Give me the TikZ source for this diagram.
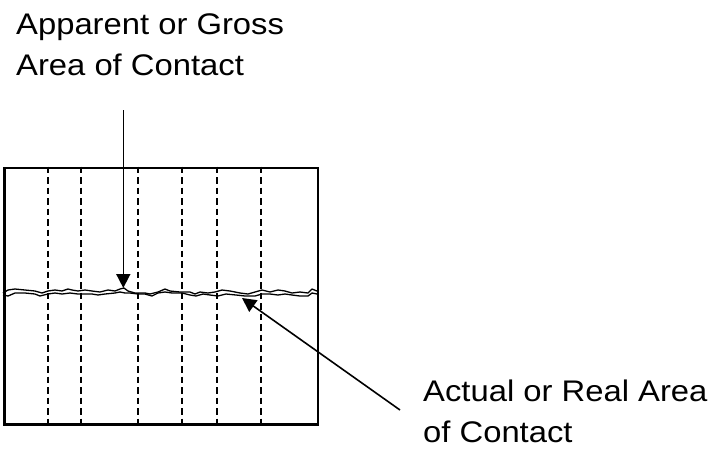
\documentclass[tikz,border=0pt]{standalone}
\usepackage{fontspec}
\setmainfont[FakeStretch=1.1]{Liberation Sans}
\usetikzlibrary{arrows.meta}
\begin{document}
\begin{tikzpicture}[x=1pt,y=-1pt,
  lbl/.style={anchor=base west,inner sep=0pt,font=\fontsize{29.8}{41}\selectfont},
  boxline/.style={line width=2.2pt},
  cut/.style={line width=1.8pt,dash pattern=on 6.5pt off 4pt},
  rough/.style={line width=1.3pt,line join=round},
  pointer/.style={line width=1.6pt,-{Triangle[length=14pt,width=14pt]}}]
\useasboundingbox (0,0) rectangle (712,448);
% block
\node[boxline,draw,rectangle,minimum width=313.4pt,minimum height=256.6pt,inner sep=0pt,anchor=north west] (blk) at (3.3,166.7) {};
% dashed lines
\foreach \xx/\nm in {48/d1,81/d2,138/d3,182/d4,217/d5,261/d6}{
  \coordinate (\nm t) at (\xx,166.7);
  \coordinate (\nm b) at (\xx,423.3);
  \draw[cut] (\nm t) -- (\nm b);
}
% rough interface
\draw[rough] plot coordinates {(3,293) (8,290) (15,289) (25,290) (35,291) (42,293) (48,291) (55,290) (62,291) (68,289) (72,290) (78,291) (85,290) (92,291) (100,292) (108,290) (115,291) (120,289) (124,288) (128,291) (135,293) (145,293) (150,294) (158,292) (165,289) (170,291) (180,292) (190,292) (195,294) (200,292) (208,293) (215,292) (222,290) (230,291) (240,293) (248,294) (255,292) (262,290) (270,292) (278,290) (285,291) (292,293) (300,292) (308,293) (312,289) (317,291)};
\draw[rough] plot coordinates {(3,295) (8,296) (15,293) (25,293) (35,294) (40,296) (48,294) (55,293) (62,294) (70,293) (78,294) (85,294) (92,294) (98,295) (105,294) (115,293) (120,292) (125,293) (130,293) (138,294) (145,294) (152,296) (158,293) (165,292) (172,293) (182,293) (190,295) (196,296) (203,294) (210,295) (218,296) (226,294) (236,295) (245,296) (255,296) (262,294) (270,294) (278,295) (285,294) (292,295) (300,296) (308,296) (312,293) (317,294)};
% labels
\node[lbl] (g1) at (16,34.3) {Apparent or Gross};
\node[lbl] (g2) at (16,75.3) {Area of Contact};
\node[lbl] (r1) at (423,401.7) {Actual or Real Area};
\node[lbl] (r2) at (423,442) {of Contact};
% arrows
\coordinate (gtail) at (123.3,110);
\coordinate (gtip) at (123.3,288);
\coordinate (rtail) at (400,410);
\coordinate (rtip) at (242,298);
\draw[pointer] (gtail) -- (gtip);
\draw[pointer] (rtail) -- (rtip);
\end{tikzpicture}
\end{document}
